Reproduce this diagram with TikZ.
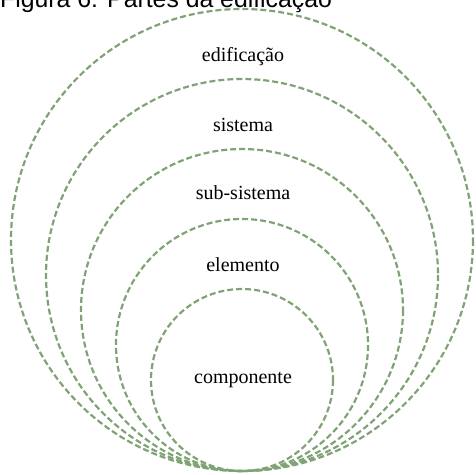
\documentclass[tikz,border=0pt]{standalone}
\usepackage{fontspec}
\setmainfont{Liberation Serif}
\newfontfamily\titlefont{Liberation Sans}
\definecolor{ringgreen}{RGB}{128,163,118}
\tikzset{
  ring/.style={draw=ringgreen,line width=2.2pt,dash pattern=on 6pt off 3pt},
  partlabel/.style={font=\fontsize{20}{24}\selectfont,inner sep=0pt}
}
\begin{document}
\begin{tikzpicture}[x=1pt,y=-1pt]
\useasboundingbox (0,0) rectangle (475,475);

\node[anchor=base west,inner sep=0pt,font=\titlefont\fontsize{24.8}{28}\selectfont] (title) at (0,7) {Figura 6: Partes da edificação};

\draw[ring] (242,240) circle (231);
\draw[ring] (242,275) circle (196);
\draw[ring] (242,310) circle (161);
\draw[ring] (242,345) circle (126);
\draw[ring] (242,380) circle (91);

\node[partlabel] (edif) at (243,57) {edificação};
\node[partlabel] (sist) at (243,125) {sistema};
\node[partlabel] (subsist) at (243,193) {sub-sistema};
\node[partlabel] (elem) at (243,265) {elemento};
\node[partlabel] (comp) at (243,380) {componente};
\end{tikzpicture}
\end{document}
